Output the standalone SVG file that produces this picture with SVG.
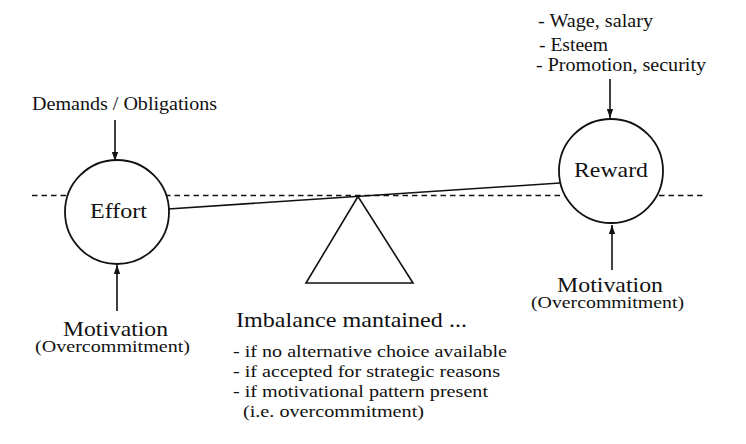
<svg xmlns="http://www.w3.org/2000/svg" width="746" height="444" viewBox="0 0 746 444">
<style>
text{font-family:"Liberation Serif","Times New Roman",serif;fill:#111}
.big{font-size:22px}
.mid{font-size:18px}
.sm{font-size:17px}
.ln{stroke:#111;stroke-width:1.6;fill:none}
.node{fill:#fff;stroke:#111;stroke-width:1.8}
</style>
<defs>
<marker id="ah" viewBox="0 0 10 10" refX="10" refY="5" markerWidth="9" markerHeight="9" markerUnits="userSpaceOnUse" orient="auto">
<path d="M0,1.5 L10,5 L0,8.5 Z" fill="#111"/>
</marker>
</defs>
<rect width="746" height="444" fill="#fff"/>
<g id="connectors">
<line class="ln" x1="32" y1="195.5" x2="704" y2="195.5" stroke-dasharray="5.5 4" stroke-width="1.5"/>
<line class="ln" x1="168" y1="209" x2="560" y2="183"/>
<line class="ln" x1="115" y1="120" x2="115" y2="161" marker-end="url(#ah)"/>
<line class="ln" x1="117" y1="311" x2="117" y2="265" marker-end="url(#ah)"/>
<line class="ln" x1="610" y1="79" x2="610" y2="118" marker-end="url(#ah)"/>
<line class="ln" x1="612" y1="270" x2="612" y2="225" marker-end="url(#ah)"/>
</g>
<g id="fulcrum">
<polygon points="358,196.5 306,283 413,283" fill="#fff" stroke="#111" stroke-width="1.6"/>
</g>
<g id="effort">
<circle class="node" cx="117" cy="212" r="52"/>
<text class="big" x="118.5" y="218" text-anchor="middle" textLength="57" lengthAdjust="spacingAndGlyphs">Effort</text>
</g>
<g id="reward">
<circle class="node" cx="611" cy="171" r="52"/>
<text class="big" x="611" y="177" text-anchor="middle" textLength="74" lengthAdjust="spacingAndGlyphs">Reward</text>
</g>
<g id="demands">
<text class="mid" x="32" y="110" textLength="185" lengthAdjust="spacingAndGlyphs">Demands / Obligations</text>
</g>
<g id="rewards-list">
<text class="mid" x="538" y="27" textLength="115" lengthAdjust="spacingAndGlyphs">- Wage, salary</text>
<text class="mid" x="539" y="51" textLength="69" lengthAdjust="spacingAndGlyphs">- Esteem</text>
<text class="mid" x="536" y="71" textLength="170" lengthAdjust="spacingAndGlyphs">- Promotion, security</text>
</g>
<g id="motivation-left">
<text class="big" x="63" y="336" textLength="105" lengthAdjust="spacingAndGlyphs">Motivation</text>
<text class="sm" x="35" y="352" textLength="155" lengthAdjust="spacingAndGlyphs">(Overcommitment)</text>
</g>
<g id="motivation-right">
<text class="big" x="557" y="292" textLength="106" lengthAdjust="spacingAndGlyphs">Motivation</text>
<text class="sm" x="531" y="308" textLength="153" lengthAdjust="spacingAndGlyphs">(Overcommitment)</text>
</g>
<g id="imbalance">
<text class="big" x="236" y="327" textLength="231" lengthAdjust="spacingAndGlyphs">Imbalance mantained ...</text>
<text class="sm" x="233" y="357" textLength="274" lengthAdjust="spacingAndGlyphs">- if no alternative choice available</text>
<text class="sm" x="233" y="377" textLength="267" lengthAdjust="spacingAndGlyphs">- if accepted for strategic reasons</text>
<text class="sm" x="233" y="397" textLength="255" lengthAdjust="spacingAndGlyphs">- if motivational pattern present</text>
<text class="sm" x="243" y="417" textLength="181" lengthAdjust="spacingAndGlyphs">(i.e. overcommitment)</text>
</g>
</svg>
